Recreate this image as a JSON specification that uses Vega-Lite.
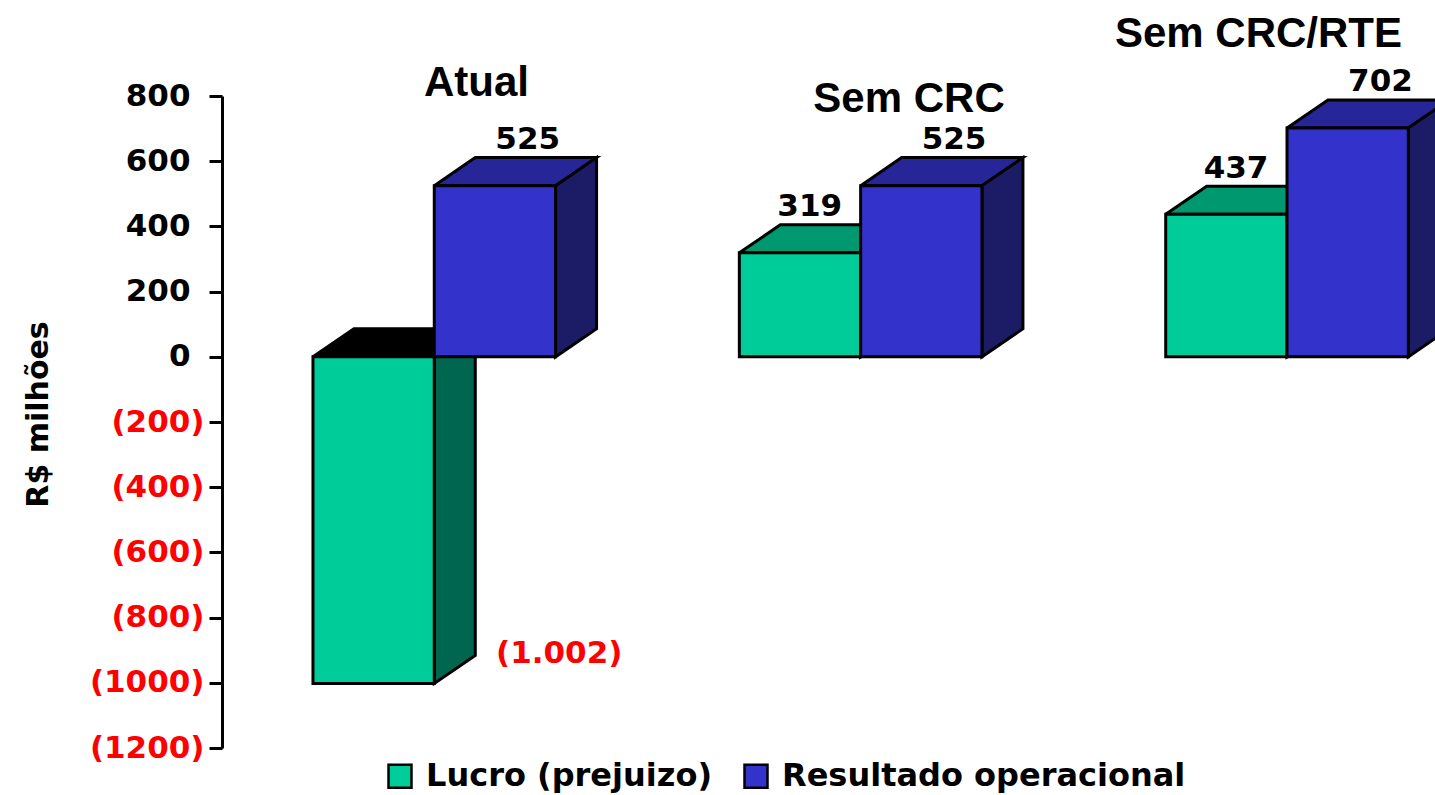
{
  "$schema": "https://vega.github.io/schema/vega-lite/v6.json",
  "width": 1213,
  "height": 652,
  "autosize": {"type": "none"},
  "padding": {"left": 222, "top": 96, "right": 0, "bottom": 47},
  "background": "white",
  "config": {"view": {"stroke": null}},
  "data": {
    "values": [
      {"group": "Atual", "series": "Lucro (prejuizo)", "value": -1002, "label": "(1.002)"},
      {"group": "Atual", "series": "Resultado operacional", "value": 525, "label": "525"},
      {"group": "Sem CRC", "series": "Lucro (prejuizo)", "value": 319, "label": "319"},
      {"group": "Sem CRC", "series": "Resultado operacional", "value": 525, "label": "525"},
      {"group": "Sem CRC/RTE", "series": "Lucro (prejuizo)", "value": 437, "label": "437"},
      {"group": "Sem CRC/RTE", "series": "Resultado operacional", "value": 702, "label": "702"}
    ]
  },
  "transform": [
    {"calculate": "indexof(['Atual','Sem CRC','Sem CRC/RTE'], datum.group)", "as": "gi"},
    {"calculate": "datum.series == 'Lucro (prejuizo)' ? 0 : 1", "as": "si"},
    {"calculate": "0.75 + 3.515 * datum.gi + datum.si", "as": "x0"},
    {"calculate": "datum.x0 + 1", "as": "x1"},
    {"calculate": "max(0, datum.value)", "as": "top"},
    {"calculate": "min(0, datum.value)", "as": "bot"}
  ],
  "encoding": {
    "x": {"field": "xx", "type": "quantitative", "scale": {"domain": [0, 10], "nice": false, "zero": false}, "axis": null},
    "y": {
      "field": "yy",
      "type": "quantitative",
      "scale": {"domain": [-1200, 800], "nice": false, "zero": false},
      "axis": {
        "title": "R$ milhões",
        "values": [-1200, -1000, -800, -600, -400, -200, 0, 200, 400, 600, 800],
        "labelExpr": "datum.value < 0 ? '(' + format(-datum.value, 'd') + ')' : format(datum.value, 'd')",
        "labelFont": "DejaVu Sans",
        "labelFontSize": 31,
        "labelFontWeight": "bold",
        "labelColor": {"condition": {"test": "datum.value < 0", "value": "#FF0000"}, "value": "#000000"},
        "labelPadding": {"condition": {"test": "datum.value < 0", "value": 5}, "value": 19},
        "labelFlush": false,
        "labelOverlap": false,
        "labelBaseline": "middle",
        "tickSize": 13,
        "tickWidth": 3,
        "tickColor": "#000000",
        "domainColor": "#000000",
        "domainWidth": 3,
        "grid": false,
        "titleFont": "DejaVu Sans",
        "titleFontSize": 30,
        "titleFontWeight": "bold",
        "titleColor": "#000000",
        "titleAngle": -90,
        "titleX": -175,
        "titleY": 318,
        "titleAlign": "center",
        "titleBaseline": "alphabetic"
      }
    }
  },
  "layer": [
    {
      "transform": [
        {"calculate": "['top','side']", "as": "face"},
        {"flatten": ["face"]},
        {"calculate": "[0,1,2,3,4]", "as": "v"},
        {"flatten": ["v"]},
        {"calculate": "datum.face == 'top' ? [datum.x0, datum.x1, datum.x1 + 0.338, datum.x0 + 0.338, datum.x0][datum.v] : [datum.x1, datum.x1 + 0.338, datum.x1 + 0.338, datum.x1, datum.x1][datum.v]", "as": "xx"},
        {"calculate": "datum.face == 'top' ? [datum.top, datum.top, datum.top + 86, datum.top + 86, datum.top][datum.v] : [datum.top, datum.top + 86, datum.bot + 86, datum.bot, datum.top][datum.v]", "as": "yy"},
        {"calculate": "datum.face == 'top' ? (datum.value < 0 ? '#000000' : (datum.si == 0 ? '#00996F' : '#262699')) : (datum.si == 0 ? '#006650' : '#1C1C66')", "as": "fc"},
        {"calculate": "datum.group + '|' + datum.series + '|' + datum.face", "as": "key"}
      ],
      "mark": {"type": "line", "stroke": "#000000", "strokeWidth": 3, "strokeJoin": "miter"},
      "encoding": {
        "detail": {"field": "key", "type": "nominal"},
        "order": {"field": "v", "type": "quantitative"},
        "fill": {"field": "fc", "type": "nominal", "scale": null}
      }
    },
    {
      "transform": [
        {"calculate": "datum.x0", "as": "xx"},
        {"calculate": "datum.x1", "as": "xx2"},
        {"calculate": "datum.value", "as": "yy"},
        {"calculate": "0", "as": "yy2"}
      ],
      "mark": {"type": "rect", "stroke": "#000000", "strokeWidth": 3},
      "encoding": {
        "x2": {"field": "xx2"},
        "y2": {"field": "yy2"},
        "fill": {
          "field": "series",
          "type": "nominal",
          "scale": {"domain": ["Lucro (prejuizo)", "Resultado operacional"], "range": ["#00CC99", "#3333CC"]},
          "legend": {
            "orient": "none",
            "legendX": 162,
            "legendY": 664,
            "direction": "horizontal",
            "title": null,
            "padding": 0,
            "symbolType": "square",
            "symbolSize": 529,
            "symbolStrokeColor": "#000000",
            "symbolStrokeWidth": 2.5,
            "labelFont": "DejaVu Sans",
            "labelFontWeight": "bold",
            "labelFontSize": 32,
            "labelColor": "#000000",
            "labelOffset": 10,
            "columnPadding": 26,
            "labelLimit": 600
          }
        }
      }
    },
    {
      "transform": [
        {"calculate": "datum.value < 0 ? datum.x1 + 1.03 : (datum.x0 + datum.x1) / 2 + (datum.si == 0 ? 0.08 : 0.27)", "as": "xx"},
        {"calculate": "datum.value < 0 ? datum.value + 64 : datum.top + 113", "as": "yy"}
      ],
      "mark": {"type": "text", "font": "DejaVu Sans", "fontSize": 31, "fontWeight": "bold", "align": "center", "baseline": "alphabetic"},
      "encoding": {
        "text": {"field": "label"},
        "color": {"condition": {"test": "datum.value < 0", "value": "#FF0000"}, "value": "#000000"}
      }
    },
    {
      "transform": [
        {"filter": "datum.si == 0"},
        {"calculate": "[2.098, 5.664, 8.545][datum.gi]", "as": "xx"},
        {"calculate": "[800, 751, 950][datum.gi]", "as": "yy"}
      ],
      "mark": {"type": "text", "font": "Liberation Sans", "fontSize": 42, "fontWeight": "bold", "align": "center", "baseline": "alphabetic", "color": "#000000"},
      "encoding": {"text": {"field": "group"}}
    }
  ]
}
